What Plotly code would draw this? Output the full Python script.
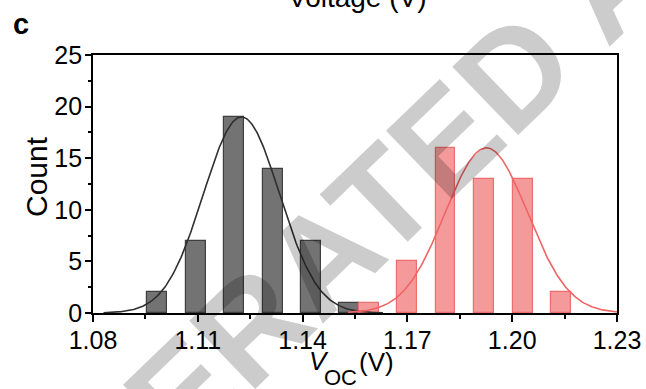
import numpy as np
import plotly.graph_objects as go

# ---- data ----
gray_centers = [1.0983, 1.1094, 1.1203, 1.1314, 1.1423, 1.1533]
gray_counts = [2, 7, 19, 14, 7, 1]
red_centers = [1.1591, 1.1699, 1.1809, 1.1919, 1.2030, 1.2140]
red_counts = [1, 5, 16, 13, 13, 2]

# Gaussian fit parameters (amplitude, centre, sigma) and drawn ranges
gray_fit = dict(amp=19.0, mu=1.1225, sigma=0.0109, lo=1.0830, hi=1.1630)
red_fit = dict(amp=16.0, mu=1.1926, sigma=0.0118, lo=1.1530, hi=1.2300)

x_ticks = [1.08, 1.11, 1.14, 1.17, 1.20, 1.23]
y_ticks = [0, 5, 10, 15, 20, 25]

W, H = 646, 389
L, R, T, B = 93, 29, 55, 76
PW, PH = W - L - R, H - T - B


def px(x):
    return (x - L) / PW


def py(y):
    return (H - B - y) / PH


def gauss(p):
    xs = np.linspace(p["lo"], p["hi"], 300)
    ys = p["amp"] * np.exp(-0.5 * ((xs - p["mu"]) / p["sigma"]) ** 2)
    return xs, ys


NARROW = "Liberation Sans Narrow, Arial Narrow, Liberation Sans, Arial, sans-serif"
SANS = "Liberation Sans, Arial, sans-serif"

fig = go.Figure()
fig.add_trace(go.Bar(x=gray_centers, y=gray_counts, width=0.0057,
                     marker=dict(color="#737373", line=dict(color="#3f3f3f", width=1.2)),
                     showlegend=False))
gx, gy = gauss(gray_fit)
fig.add_trace(go.Scatter(x=gx, y=gy, mode="lines", line=dict(color="#2f2f2f", width=1.6),
                         showlegend=False))
fig.add_trace(go.Bar(x=red_centers, y=red_counts, width=0.0057,
                     marker=dict(color="#f59a9a", line=dict(color="#ee6c6c", width=1.2)),
                     showlegend=False))
rx, ry = gauss(red_fit)
fig.add_trace(go.Scatter(x=rx, y=ry, mode="lines", line=dict(color="#ef6464", width=1.6),
                         showlegend=False))

axis_common = dict(showline=True, linecolor="black", linewidth=1.8, mirror=True,
                   ticks="outside", tickcolor="black", tickwidth=1.5,
                   showgrid=False, zeroline=False, automargin=False,
                   tickfont=dict(family=NARROW, size=25, color="black"))

fig.update_xaxes(range=[1.08, 1.23], tickvals=x_ticks,
                 ticktext=[f"{v:.2f}" for v in x_ticks], ticklen=7,
                 ticklabelstandoff=-3,
                 minor=dict(ticks="outside", dtick=0.015, tick0=1.08, ticklen=4,
                            tickcolor="black", tickwidth=1.5),
                 **axis_common)
fig.update_yaxes(range=[0, 25], tickvals=y_ticks, ticklen=6,
                 ticklabelstandoff=-2,
                 minor=dict(ticks="outside", dtick=2.5, tick0=0, ticklen=3,
                            tickcolor="black", tickwidth=1.5),
                 **axis_common)

ann = []
# panel letter
ann.append(dict(text="<b>c</b>", x=px(21), y=py(24), font=dict(family=SANS, size=29, color="black")))
# clipped title of the panel above
ann.append(dict(text="Voltage (V)", x=px(357), y=py(15), yanchor="bottom",
                font=dict(family=SANS, size=28, color="black")))
# y-axis title
ann.append(dict(text="Count", x=px(36), y=py(177), textangle=-90,
                font=dict(family=SANS, size=30, color="black")))
# x-axis title pieces
ann.append(dict(text="<i>V</i>", x=px(319), y=py(361), font=dict(family=NARROW, size=26, color="black")))
ann.append(dict(text="OC", x=px(340), y=py(377.5), font=dict(family=NARROW, size=22, color="black")))
ann.append(dict(text="(V)", x=px(376.7), y=py(362), font=dict(family=NARROW, size=26, color="black")))
# watermark
ann.append(dict(text="<b>ACCELERATED ARTICLE PREVIEW</b>", x=px(648), y=py(-57), textangle=-44,
                font=dict(family=SANS, size=138, color="rgba(0,0,0,0.2)")))
for a in ann:
    a.setdefault("xanchor", "center")
    a.setdefault("yanchor", "middle")
    a.update(xref="paper", yref="paper", showarrow=False)

fig.update_layout(width=W, height=H,
                  margin=dict(l=L, r=R, t=T, b=B, autoexpand=False),
                  paper_bgcolor="white", plot_bgcolor="white",
                  barmode="overlay", bargap=0, annotations=ann,
                  font=dict(family=SANS, color="black"))

fig.write_html("out.html", config={"displayModeBar": False},
               post_script="document.body.style.margin='0';document.body.style.overflow='hidden';")
